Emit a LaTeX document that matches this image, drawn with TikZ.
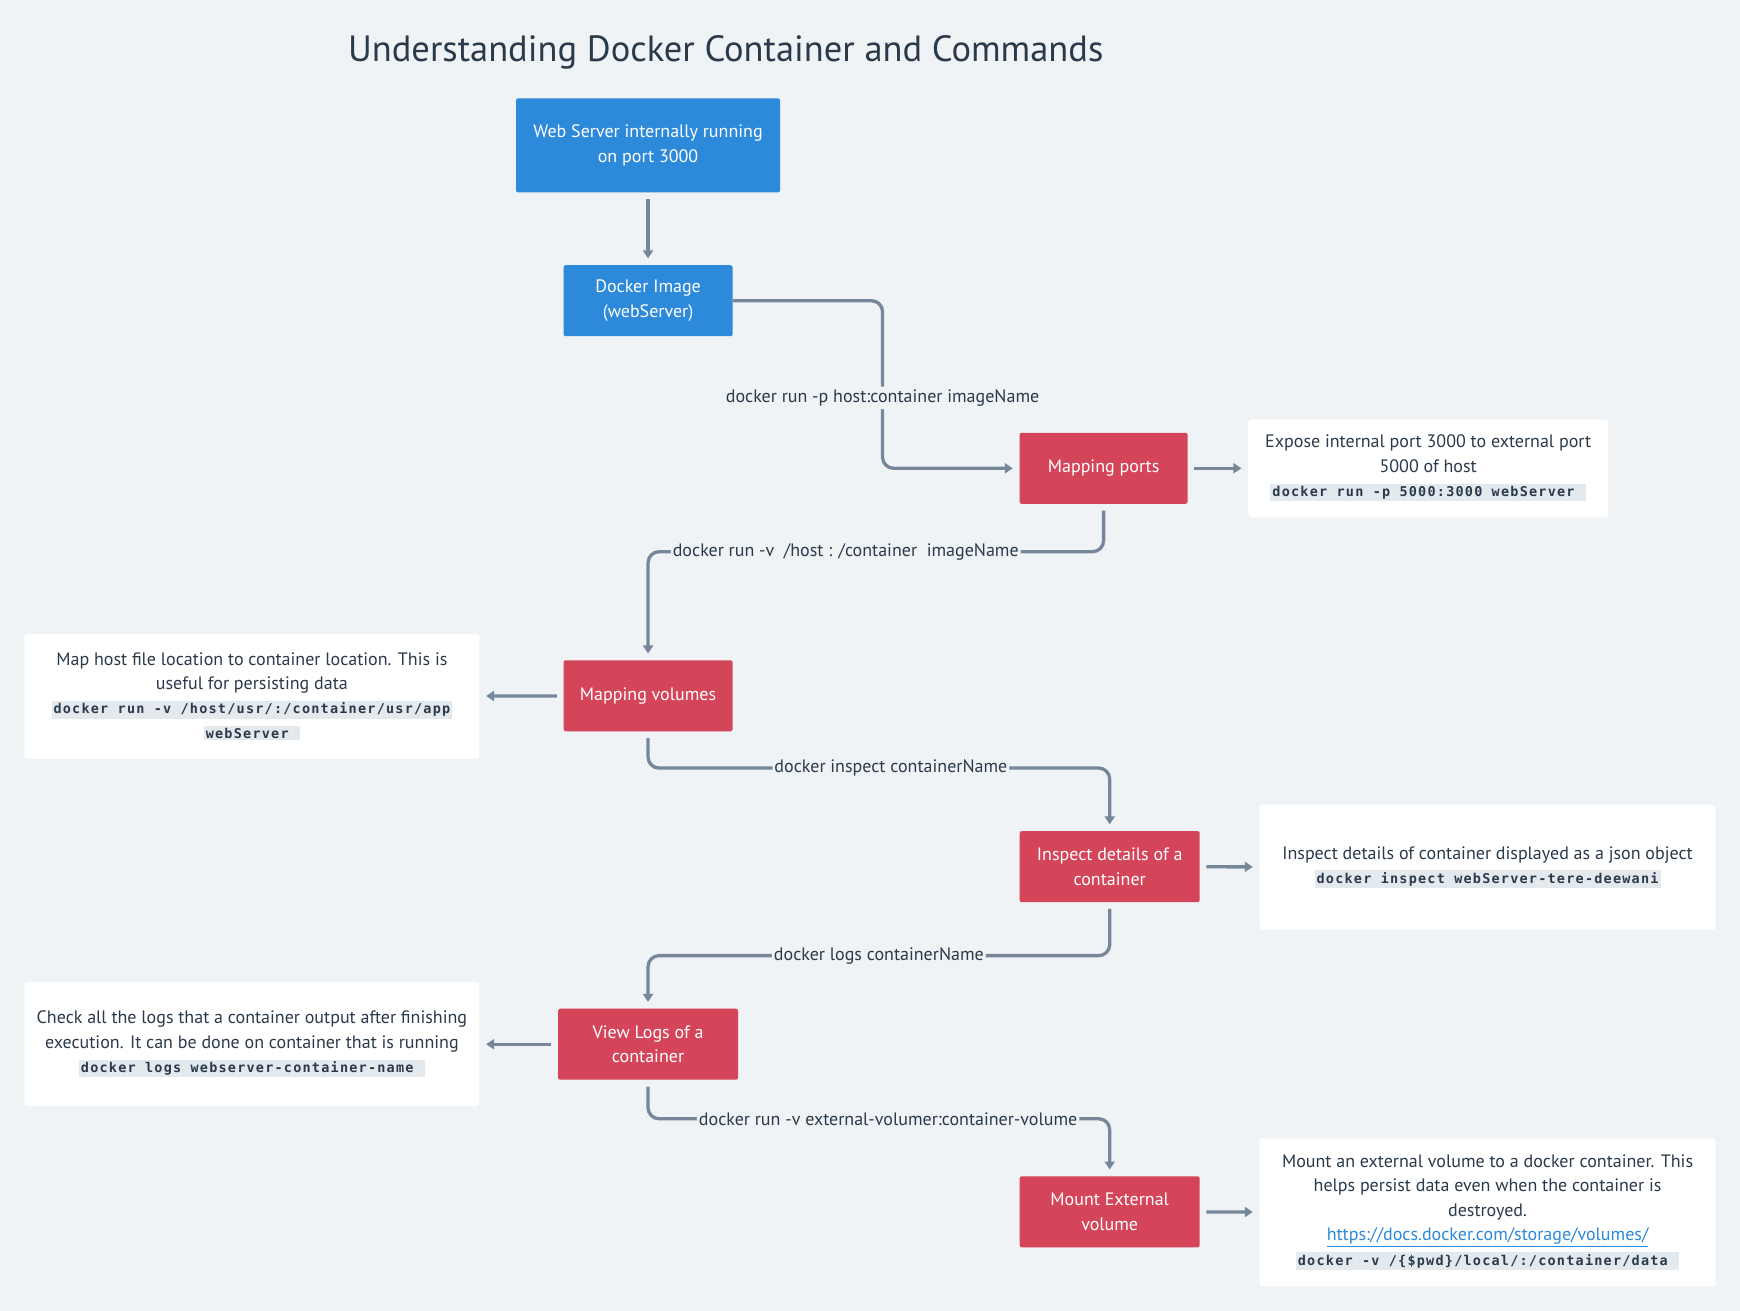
\documentclass[tikz,border=0pt]{standalone}
\usepackage{fontspec}
\setmainfont{PT Sans}
\newfontfamily\codefont{DejaVu Sans Mono}[LetterSpace=9]
\usetikzlibrary{positioning}
\usetikzlibrary{arrows.meta}
\usepackage{xcolor}
\definecolor{pagebg}{HTML}{EFF3F6}
\definecolor{dockblue}{HTML}{2D89D9}
\definecolor{dockred}{HTML}{D4455A}
\definecolor{wirecol}{HTML}{77879A}
\definecolor{inkcol}{HTML}{2B3A4A}
\definecolor{codebg}{HTML}{E4E9EE}
\newcommand{\cmd}[1]{{\setlength{\fboxsep}{2pt}\colorbox{codebg}{\codefont\bfseries\fontsize{13.5}{15}\selectfont #1}}}

\begin{document}
\begin{tikzpicture}[x=1.11pt,y=-1.11pt,
    font=\fontsize{18}{24.4}\selectfont,
    box/.style={rectangle, rounded corners=2pt, text=white, align=center, minimum height=71pt, inner sep=0pt},
    notebox/.style={rectangle, rounded corners=3pt, fill=white, text=inkcol, align=center, inner sep=0pt},
    conn/.style={-{Triangle[length=8pt,width=10pt]}, line width=3.3pt, draw=wirecol, rounded corners=11pt, shorten <=6.6pt, shorten >=6.6pt},
    cmdlabel/.style={fill=pagebg, text=inkcol, inner xsep=2pt, inner ysep=3pt}]
            \fill[pagebg] (0,0) rectangle (1568,1181);
            \useasboundingbox (0,0) rectangle (1568,1181);

            \node[text=inkcol, font=\fontsize{36.5}{40}\selectfont] (title) at (654,47) {Understanding Docker Container and Commands};

            \node[box, fill=dockblue, minimum width=264pt, minimum height=94pt] (web) at (584,131) {Web Server internally running\\on port 3000};
            \node[box, fill=dockblue, minimum width=169pt] (image) at (584,271) {Docker Image\\(webServer)};
            \node[box, fill=dockred, minimum width=168pt] (ports) at (994.5,422) {Mapping ports};
            \node[box, fill=dockred, minimum width=169pt] (volumes) at (584,627) {Mapping volumes};
            \node[box, fill=dockred, minimum width=180pt] (inspect) at (1000,781) {Inspect details of a\\container};
            \node[box, fill=dockred, minimum width=180pt] (logs) at (584,941) {View Logs of a\\container};
            \node[box, fill=dockred, minimum width=180pt] (mount) at (1000,1092) {Mount External\\volume};

            \node[notebox, minimum width=360pt, minimum height=98pt] (portsnote) at (1287,422) {Expose internal port 3000 to external port\\5000 of host\\\cmd{docker run -p 5000:3000 webServer }};
            \node[notebox, minimum width=455pt, minimum height=125pt] (volumesnote) at (227,627.5) {Map host file location to container location. This is\\useful for persisting data\\\cmd{docker run -v /host/usr/:/container/usr/app}\\\cmd{webServer }};
            \node[notebox, minimum width=456pt, minimum height=125pt] (inspectnote) at (1340.5,781.5) {Inspect details of container displayed as a json object\\\cmd{docker inspect webServer-tere-deewani}};
            \node[notebox, minimum width=455pt, minimum height=124pt] (logsnote) at (227,941) {Check all the logs that a container output after finishing\\execution. It can be done on container that is running\\\cmd{docker logs webserver-container-name }};
            \node[notebox, minimum width=456pt, minimum height=148pt] (mountnote) at (1340.5,1092.5) {Mount an external volume to a docker container. This\\helps persist data even when the container is\\destroyed.\\\textcolor{dockblue}{\underline{https://docs.docker.com/storage/volumes/}}\\\cmd{docker -v /\{\$pwd\}/local/:/container/data }};

            \draw[conn] (web) -- (image);
            \draw[conn, shorten <=0pt] (image.east) -- ++(135,0) |- node[pos=0.29, cmdlabel] {docker run -p host:container imageName} (ports.west);
            \draw[conn] (ports.south) -- ++(0,43) -| node[pos=0.283, cmdlabel] {docker run -v\ \ /host : /container\ \ imageName} (volumes.north);
            \draw[conn] (volumes.south) -- ++(0,33) -| node[pos=0.263, cmdlabel] {docker inspect containerName} (inspect.north);
            \draw[conn] (inspect.south) -- ++(0,48) -| node[pos=0.25, cmdlabel] {docker logs containerName} (logs.north);
            \draw[conn] (logs.south) -- ++(0,35) -| node[pos=0.26, cmdlabel] {docker run -v external-volumer:container-volume} (mount.north);

            \draw[conn] (ports) -- (portsnote);
            \draw[conn] (volumes) -- (volumesnote);
            \draw[conn] (inspect) -- (inspectnote);
            \draw[conn] (logs) -- (logsnote);
            \draw[conn] (mount) -- (mountnote);
        \end{tikzpicture}
\end{document}
